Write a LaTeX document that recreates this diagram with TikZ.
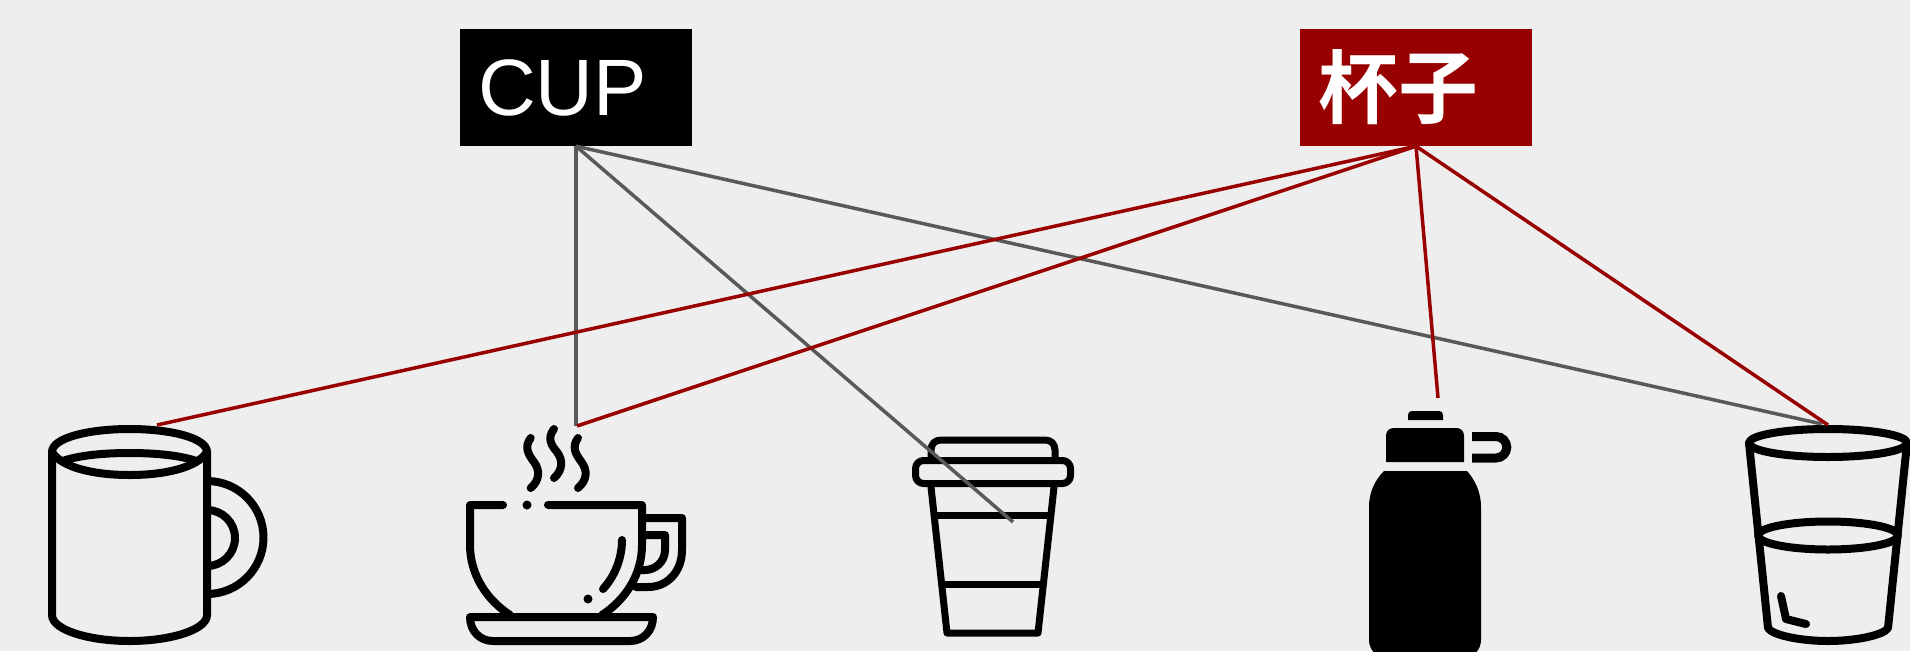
\documentclass[tikz,border=0pt]{standalone}
\usepackage{fontspec}
\setmainfont{Liberation Sans}
\newfontfamily\cjk{Noto Sans CJK SC Bold}
\definecolor{bgc}{HTML}{EEEEEE}
\definecolor{darkred}{HTML}{990000}
\definecolor{greyline}{HTML}{595959}
\tikzset{
  labelbox/.style={minimum width=232pt,minimum height=117pt,inner xsep=18pt,inner ysep=0pt,text width=196pt,align=left,text=white,font=\fontsize{80}{90}\selectfont},
  icon/.style={draw=black,line width=8pt,line cap=round,line join=round},
  thin icon/.style={icon,line width=7pt},
  redlink/.style={draw=darkred,line width=3.5pt},
  greylink/.style={draw=greyline,line width=3.5pt},
  dotmark/.style={fill=black,draw=none}
}
\begin{document}
\begin{tikzpicture}[x=1pt,y=-1pt]
\useasboundingbox (0,0) rectangle (1910,651);
\fill[bgc] (0,0) rectangle (1910,651);
\begin{scope}
\clip (0,0) rectangle (1910,651);
% mug
\draw[icon] (52,452) .. controls (52,438) and (88,429) .. (129.5,429) .. controls (171,429) and (207,438) .. (207,452) -- (207,615) .. controls (207,630) and (170,641) .. (129.5,641) .. controls (89,641) and (52,630) .. (52,615) -- cycle;
\draw[icon] (52,452) .. controls (62,468) and (95,475) .. (129.5,475) .. controls (164,475) and (197,468) .. (207,452);
\draw[icon,line cap=butt] (60,462) .. controls (75,456) and (100,453) .. (129.5,453) .. controls (159,453) and (184,456) .. (199,462);
\draw[icon] (207,481) arc[start angle=-90,end angle=90,radius=56.5];
\draw[icon] (207,510) arc[start angle=-90,end angle=90,radius=28];
% hot cup
\draw[icon] (503,505) -- (470,505) -- (470,545) .. controls (470,575) and (487,600) .. (510,615);
\draw[icon] (548,505) -- (642,505) -- (642,545) .. controls (642,575) and (625,600) .. (602,615);
\fill[dotmark] (527,505) circle[radius=4.5];
\fill[dotmark] (588,599) circle[radius=4.5];
\draw[icon] (622,540) .. controls (622,558) and (615,576) .. (603,589);
\draw[icon] (470,617) -- (653,617) .. controls (653,631) and (643,641) .. (630,641) -- (493,641) .. controls (480,641) and (470,631) .. (470,617) -- cycle;
\draw[icon] (642,518) -- (682,518) -- (682,550) .. controls (682,571) and (668,587) .. (648,587) -- (636,587);
\draw[icon] (642,535) -- (665,535) -- (665,550) .. controls (665,562) and (655,570) .. (645,570) -- (640,570);
\draw[icon] (530.7,438) .. controls (524,447) and (528,454) .. (534,462) .. controls (540,470) and (540,480) .. (530.7,488);
\draw[icon] (554,429) .. controls (547,438) and (551,445) .. (557,452) .. controls (563,460) and (563,470) .. (554,478);
\draw[icon] (578,438) .. controls (571.5,447) and (575.5,454) .. (581.5,462) .. controls (587.5,470) and (587.5,480) .. (578,488);
% to-go cup
\draw[thin icon] (931,458) -- (931,450) .. controls (931,444) and (935,440) .. (941,440) -- (1045,440) .. controls (1051,440) and (1055,444) .. (1055,450) -- (1055,458);
\draw[thin icon,rounded corners=8pt] (915.5,460.5) rectangle (1070.5,483.5);
\draw[thin icon] (931,487) -- (947,633) -- (1038,633) -- (1054,487);
\draw[thin icon] (935,515) -- (1050,515);
\draw[thin icon] (942,584) -- (1043,584);
% bottle
\fill[black] (1408,420) -- (1408,415) .. controls (1408,412.5) and (1409.5,411) .. (1412,411) -- (1439,411) .. controls (1441.5,411) and (1443,412.5) .. (1443,415) -- (1443,420) -- cycle;
\fill[black] (1386,462) -- (1386,436) .. controls (1386,431) and (1389,428) .. (1394,428) -- (1456,428) .. controls (1461,428) and (1464,431) .. (1464,436) -- (1464,462) -- cycle;
\fill[black] (1384,471) -- (1467,471) .. controls (1475,480) and (1481,492) .. (1481,507) -- (1481,640) .. controls (1481,650) and (1473,658) .. (1463,658) -- (1387,658) .. controls (1377,658) and (1369,650) .. (1369,640) -- (1369,507) .. controls (1369,492) and (1375,480) .. (1384,471) -- cycle;
\draw[black,line width=9pt] (1472,436.5) -- (1496,436.5) .. controls (1502,436.5) and (1506.75,441.5) .. (1506.75,447.25) .. controls (1506.75,453) and (1502,458) .. (1496,458) -- (1472,458);
% glass
\draw[icon] (1828,443) ellipse[x radius=79,y radius=14];
\draw[icon] (1749,443) -- (1768,628) .. controls (1772,635) and (1800,641) .. (1828,641) .. controls (1856,641) and (1884,635) .. (1888,628) -- (1907,443);
\draw[icon] (1828,535.5) ellipse[x radius=70,y radius=14];
\draw[icon] (1781,596) -- (1786,619) -- (1806,624);
\end{scope}
% label boxes
\node[labelbox,fill=black] (cupbox) at (576,87.5) {CUP};
\node[labelbox,fill=darkred] (cnbox) at (1416,87.5) {\cjk 杯子};
% connector ends
\coordinate (mugtop) at (157,425);
\coordinate (hotgrey) at (576,426);
\coordinate (hotred) at (577,426);
\coordinate (togo) at (1013,522);
\coordinate (bottletop) at (1438,398);
\coordinate (glassgrey) at (1822,424);
\coordinate (glassred) at (1828,425);
\draw[greylink] (cupbox.south) -- (hotgrey);
\draw[greylink] (cupbox.south) -- (togo);
\draw[greylink] (cupbox.south) -- (glassgrey);
\draw[redlink] (cnbox.south) -- (mugtop);
\draw[redlink] (cnbox.south) -- (hotred);
\draw[redlink] (cnbox.south) -- (bottletop);
\draw[redlink] (cnbox.south) -- (glassred);
\end{tikzpicture}
\end{document}
